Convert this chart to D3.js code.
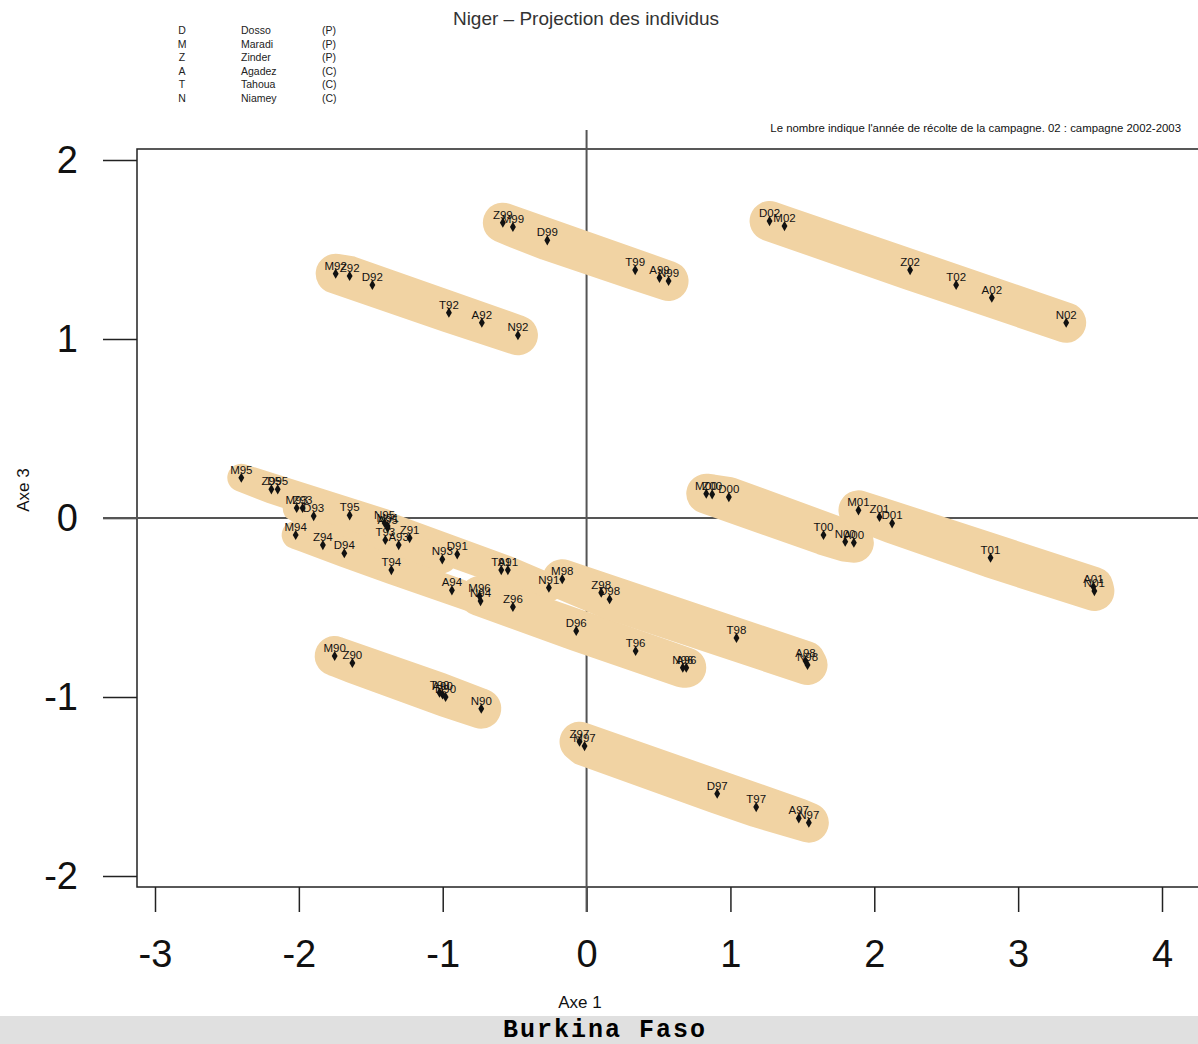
<!DOCTYPE html>
<html>
<head>
<meta charset="utf-8">
<script src="https://cdn.jsdelivr.net/npm/d3@7"></script>
<style>
  body { margin: 0; background: #fff; }
  svg { display: block; font-family: Arial, "Liberation Sans", sans-serif; }
</style>
</head>
<body>
<div id="chart"></div>
<script>
// legend
const codes = ["D", "M", "Z", "A", "T", "N"];
const regions = ["Dosso", "Maradi", "Zinder", "Agadez", "Tahoua", "Niamey"];
const regionTypes = ["(P)", "(P)", "(P)", "(C)", "(C)", "(C)"];

// axes
const xTicks = [-3, -2, -1, 0, 1, 2, 3, 4];
const yTicks = [-2, -1, 0, 1, 2];

// individus : region + annee
const pointLabels = [
    "M90", "Z90", "T90", "A90", "D90", "N90",
    "M91", "Z91", "D91", "T91", "A91", "N91",
    "M92", "Z92", "D92", "T92", "A92", "N92",
    "M93", "Z93", "D93", "T93", "A93", "N93",
    "M94", "Z94", "D94", "T94", "A94", "N94",
    "M95", "Z95", "D95", "T95", "N95", "A95",
    "M96", "Z96", "D96", "T96", "N96", "A96",
    "Z97", "M97", "D97", "T97", "A97", "N97",
    "M98", "Z98", "D98", "T98", "A98", "N98",
    "Z99", "M99", "D99", "T99", "A99", "N99",
    "M00", "Z00", "D00", "T00", "N00", "A00",
    "M01", "Z01", "D01", "T01", "A01", "N01",
    "D02", "M02", "Z02", "T02", "A02", "N02"
];
const axe1 = [
    -1.751, -1.628, -1.022, -1.001, -0.980, -0.732,
    -1.383, -1.230, -0.899, -0.593, -0.547, -0.262,
    -1.744, -1.647, -1.489, -0.957, -0.728, -0.477,
    -2.015, -1.974, -1.897, -1.399, -1.306, -1.003,
    -2.022, -1.833, -1.684, -1.357, -0.936, -0.737,
    -2.400, -2.191, -2.147, -1.647, -1.404, -1.383,
    -0.744, -0.512, -0.072, 0.341, 0.669, 0.693,
    -0.049, -0.014, 0.908, 1.179, 1.475, 1.545,
    -0.169, 0.102, 0.160, 1.042, 1.522, 1.536,
    -0.582, -0.512, -0.273, 0.338, 0.507, 0.570,
    0.832, 0.873, 0.989, 1.647, 1.798, 1.858,
    1.890, 2.036, 2.124, 2.808, 3.523, 3.530,
    1.272, 1.376, 2.249, 2.569, 2.817, 3.334
];
const axe3 = [
    -0.771, -0.810, -0.976, -0.986, -1.000, -1.065,
    -0.045, -0.112, -0.203, -0.291, -0.291, -0.389,
    1.365, 1.352, 1.302, 1.147, 1.091, 1.021,
    0.056, 0.056, 0.011, -0.123, -0.151, -0.231,
    -0.095, -0.151, -0.197, -0.291, -0.404, -0.464,
    0.225, 0.160, 0.160, 0.015, -0.028, -0.056,
    -0.436, -0.497, -0.631, -0.743, -0.836, -0.836,
    -1.250, -1.274, -1.540, -1.615, -1.678, -1.702,
    -0.342, -0.417, -0.454, -0.670, -0.799, -0.821,
    1.650, 1.626, 1.551, 1.385, 1.342, 1.324,
    0.136, 0.132, 0.117, -0.095, -0.132, -0.138,
    0.043, 0.006, -0.030, -0.222, -0.384, -0.408,
    1.659, 1.631, 1.385, 1.302, 1.231, 1.091
];

const width = 1198;
const height = 1044;
const box = {left: 137, top: 149, right: 1210, bottom: 887};
const blobColor = "#f1d3a3";

const points = pointLabels.map((label, i) => ({
    label: label,
    year: label.slice(1),
    x: axe1[i],
    y: axe3[i]
}));

const xScale = d3.scaleLinear().domain([-3, 4]).range([155, 1162]);
const yScale = d3.scaleLinear().domain([-2, 2]).range([876, 160]);

const svg = d3.select("#chart").append("svg")
    .attr("width", width)
    .attr("height", height);

svg.append("rect")
    .attr("width", width)
    .attr("height", height)
    .attr("fill", "#fff");

// titre
svg.append("text")
    .attr("x", 586)
    .attr("y", 25)
    .attr("text-anchor", "middle")
    .attr("fill", "#333")
    .style("font-size", "19px")
    .text("Niger \u2013 Projection des individus");

// legende des regions
const legend = svg.append("g").style("font-size", "10.5px").attr("fill", "#222");
codes.forEach((c, i) => {
    const y = 34 + i * 13.6;
    legend.append("text").attr("x", 182).attr("y", y).attr("text-anchor", "middle").text(c);
    legend.append("text").attr("x", 241).attr("y", y).text(regions[i]);
    legend.append("text").attr("x", 322).attr("y", y).text(regionTypes[i]);
});

svg.append("text")
    .attr("x", 1181)
    .attr("y", 132)
    .attr("text-anchor", "end")
    .attr("fill", "#111")
    .style("font-size", "11.4px")
    .text("Le nombre indique l'ann\u00e9e de r\u00e9colte de la campagne. 02 : campagne 2002-2003");

// cadre
svg.append("rect")
    .attr("x", box.left)
    .attr("y", box.top)
    .attr("width", box.right - box.left)
    .attr("height", box.bottom - box.top)
    .attr("fill", "#fff")
    .attr("stroke", "#222")
    .attr("stroke-width", 1.5);

// axes (graduations)
const xAxis = d3.axisBottom(xScale)
    .tickValues(xTicks)
    .tickSize(25)
    .tickPadding(28)
    .tickFormat(d => String(d));
const gx = svg.append("g")
    .attr("transform", `translate(0, ${box.bottom})`)
    .call(xAxis);
gx.select(".domain").remove();
gx.selectAll("line").attr("stroke", "#222").attr("stroke-width", 1.5);
gx.selectAll("text")
    .attr("fill", "#111")
    .style("font-size", "38px")
    .style("font-family", "Arial, 'Liberation Sans', sans-serif");

const yAxis = d3.axisLeft(yScale)
    .tickValues(yTicks)
    .tickSize(34)
    .tickPadding(25)
    .tickFormat(d => String(d));
const gy = svg.append("g")
    .attr("transform", `translate(${box.left}, 0)`)
    .call(yAxis);
gy.select(".domain").remove();
gy.selectAll("line").attr("stroke", "#222").attr("stroke-width", 1.5);
gy.selectAll("text")
    .attr("fill", "#111")
    .style("font-size", "38px")
    .style("font-family", "Arial, 'Liberation Sans', sans-serif");

// axes des origines
svg.append("line")
    .attr("x1", 103).attr("x2", width)
    .attr("y1", yScale(0)).attr("y2", yScale(0))
    .attr("stroke", "#555").attr("stroke-width", 2);
svg.append("line")
    .attr("x1", xScale(0)).attr("x2", xScale(0))
    .attr("y1", 130).attr("y2", 912)
    .attr("stroke", "#555").attr("stroke-width", 2);

// zones par campagne
const years = Array.from(new Set(points.map(d => d.year)));
years.forEach(year => {
    const pts = points.filter(d => d.year === year).map(d => [xScale(d.x), yScale(d.y)]);
    const hull = d3.polygonHull(pts) || pts;
    const narrow = ["91", "93", "94", "95"].includes(year);
    svg.append("path")
        .attr("d", "M" + hull.join("L") + "Z")
        .attr("fill", blobColor)
        .attr("stroke", blobColor)
        .attr("stroke-width", narrow ? 28 : 40)
        .attr("stroke-linejoin", "round")
        .attr("stroke-linecap", "round");
});

// points
svg.selectAll(".pt")
    .data(points)
    .enter()
    .append("path")
    .attr("class", "pt")
    .attr("transform", d => `translate(${xScale(d.x)}, ${yScale(d.y)})`)
    .attr("d", d3.symbol().type(d3.symbolDiamond).size(30))
    .attr("fill", "#111");

svg.selectAll(".lbl")
    .data(points)
    .enter()
    .append("text")
    .attr("class", "lbl")
    .attr("x", d => xScale(d.x))
    .attr("y", d => yScale(d.y) - 4)
    .attr("text-anchor", "middle")
    .attr("fill", "#111")
    .style("font-size", "11.5px")
    .text(d => d.label);

// titres des axes
svg.append("text")
    .attr("x", 580)
    .attr("y", 1008)
    .attr("text-anchor", "middle")
    .attr("fill", "#111")
    .style("font-size", "17px")
    .text("Axe 1");

svg.append("text")
    .attr("transform", "translate(29, 490) rotate(-90)")
    .attr("text-anchor", "middle")
    .attr("fill", "#111")
    .style("font-size", "17px")
    .text("Axe 3");

// bandeau du bas
svg.append("rect")
    .attr("x", 0)
    .attr("y", 1016)
    .attr("width", width)
    .attr("height", height - 1016)
    .attr("fill", "#e0e0e0");

svg.append("text")
    .attr("x", 605)
    .attr("y", 1037)
    .attr("text-anchor", "middle")
    .attr("fill", "#000")
    .style("font-family", "'Liberation Mono', 'DejaVu Sans Mono', monospace")
    .style("font-weight", "bold")
    .style("font-size", "25px")
    .style("letter-spacing", "2px")
    .text("Burkina Faso");
</script>
</body>
</html>
